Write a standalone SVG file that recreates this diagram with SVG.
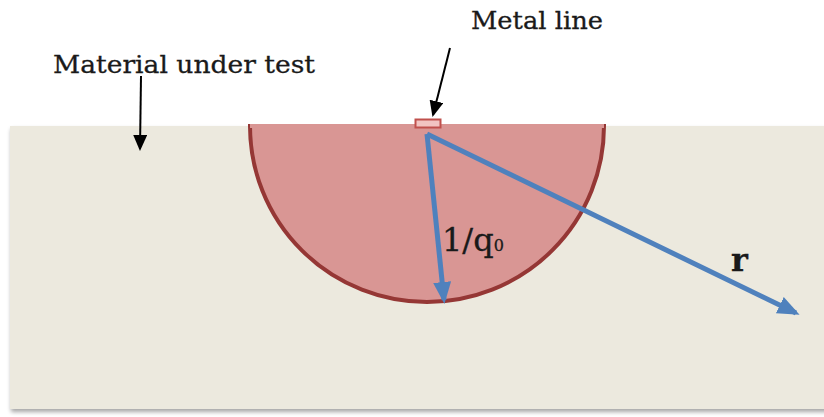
<svg xmlns="http://www.w3.org/2000/svg" width="824" height="417" viewBox="0 0 824 417">
<defs>
<style>
.lbl{font-family:"DejaVu Serif","Liberation Serif",serif;fill:#1a1a1a;stroke:#1a1a1a;stroke-width:0.3}
.blk{stroke:#000;stroke-width:2;fill:none}
.blue{stroke:#4F81BD;stroke-width:5;fill:none}
</style>
<marker id="ah" markerWidth="16" markerHeight="14" refX="14" refY="7" orient="auto" markerUnits="userSpaceOnUse" viewBox="0 0 16 14">
<path d="M0,0 L16,7 L0,14 Z" fill="#000"/>
</marker>
<marker id="bh" markerWidth="22" markerHeight="18" refX="18" refY="9" orient="auto" markerUnits="userSpaceOnUse" viewBox="0 0 22 18">
<path d="M0,0 L22,9 L0,18 Z" fill="#4F81BD"/>
</marker>
<filter id="sh" x="-5%" y="-5%" width="110%" height="110%">
<feGaussianBlur in="SourceAlpha" stdDeviation="2"/>
<feOffset dx="1" dy="3"/>
<feComponentTransfer><feFuncA type="linear" slope="0.35"/></feComponentTransfer>
<feMerge><feMergeNode/><feMergeNode in="SourceGraphic"/></feMerge>
</filter>
</defs>
<rect width="824" height="417" fill="#fff"/>
<g id="material">
<rect x="10" y="126" width="830" height="283" fill="#ECE9DE" filter="url(#sh)"/>
</g>
<g id="region">
<path d="M250,126 A177,176 0 0 0 604,126 Z" fill="#D99694" stroke="#953735" stroke-width="4"/>
<rect x="250" y="124" width="354" height="4" fill="#D99694"/>
</g>
<g id="metal-line">
<rect x="415.5" y="119.5" width="25" height="8" fill="#F2C4C2" stroke="#C0504D" stroke-width="2"/>
</g>
<g id="connectors">
<line class="blk" x1="450" y1="48" x2="433" y2="115" marker-end="url(#ah)"/>
<line class="blk" x1="141" y1="76" x2="140" y2="149" marker-end="url(#ah)"/>
<line class="blue" x1="427" y1="134" x2="444" y2="300" marker-end="url(#bh)"/>
<line class="blue" x1="427" y1="134" x2="796" y2="313" marker-end="url(#bh)"/>
</g>
<g id="labels">
<text class="lbl" x="471" y="29" font-size="25" textLength="132" lengthAdjust="spacingAndGlyphs">Metal line</text>
<text class="lbl" x="53" y="73" font-size="25" textLength="262" lengthAdjust="spacingAndGlyphs">Material under test</text>
<text class="lbl" x="442" y="251" font-size="32">1/q<tspan font-size="16">0</tspan></text>
<text class="lbl" x="731" y="271" font-size="32" font-weight="bold">r</text>
</g>
</svg>
